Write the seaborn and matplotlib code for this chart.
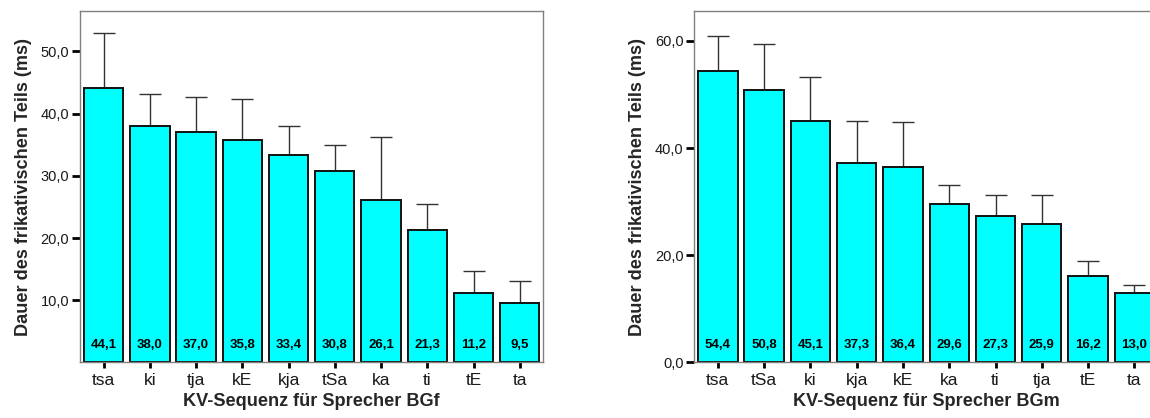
import matplotlib
matplotlib.use("Agg")
import matplotlib.pyplot as plt
import seaborn as sns
import numpy as np

# Sprecher BGf
cats_f = ["tsa", "ki", "tja", "kE", "kja", "tSa", "ka", "ti", "tE", "ta"]
mean_f = [44.1, 38.0, 37.0, 35.8, 33.4, 30.8, 26.1, 21.3, 11.2, 9.5]
err_f = [8.8, 5.1, 5.7, 6.5, 4.6, 4.1, 10.2, 4.2, 3.5, 3.6]
yticks_f = [10, 20, 30, 40, 50]

# Sprecher BGm
cats_m = ["tsa", "tSa", "ki", "kja", "kE", "ka", "ti", "tja", "tE", "ta"]
mean_m = [54.4, 50.8, 45.1, 37.3, 36.4, 29.6, 27.3, 25.9, 16.2, 13.0]
err_m = [6.6, 8.6, 8.1, 7.7, 8.4, 3.6, 4.0, 5.3, 2.7, 1.5]
yticks_m = [0, 20, 40, 60]

sns.set_theme(style="ticks")
plt.rcParams['font.family'] = ['Liberation Sans', 'DejaVu Sans']

fig = plt.figure(figsize=(11.5, 4.18), dpi=100)
ax1 = fig.add_axes([0.0696, 0.1328, 0.4029, 0.8409])
ax2 = fig.add_axes([0.6037, 0.1328, 0.4032, 0.8409])


def fmt(v):
    return f"{v:.1f}".replace(".", ",")


def draw(ax, cats, means, errs, yticks, ymax, speaker):
    sns.barplot(x=cats, y=means, order=cats, color="#00FFFF", saturation=1,
                width=0.85, edgecolor="#111111", linewidth=1.4,
                errorbar=None, ax=ax, zorder=2)
    pos = np.arange(len(cats))
    # Fehlerbalken nur nach oben
    ax.errorbar(pos, means, yerr=[np.zeros(len(errs)), errs], fmt="none",
                ecolor="#333333", elinewidth=1.0, capsize=8.2, capthick=1.0,
                zorder=1)
    for x, v in zip(pos, means):
        ax.text(x, 0.051, fmt(v), transform=ax.get_xaxis_transform(),
                ha="center", va="center", fontsize=9.5, fontweight="bold",
                color="black")
    ax.set_xlim(-0.51, len(cats) - 0.49)
    ax.set_ylim(0, ymax)
    ax.set_yticks(yticks)
    ax.set_yticklabels([fmt(t) for t in yticks])
    for s in ax.spines.values():
        s.set_color("#808080")
        s.set_linewidth(1.0)
        s.set_visible(True)
    ax.tick_params(axis="y", direction="out", length=5.8, width=2.0,
                   color="black", pad=2, labelsize=10.5, labelcolor="#1a1a1a")
    ax.tick_params(axis="x", direction="out", length=4.5, width=2.0,
                   color="black", pad=3, labelsize=12.5, labelcolor="#1a1a1a")
    ax.set_xlabel(f"KV-Sequenz für Sprecher {speaker}", fontsize=13.1,
                  fontweight="bold", labelpad=4)
    ax.set_ylabel("Dauer des frikativischen Teils (ms)", fontsize=13.1,
                  fontweight="bold", labelpad=6)


draw(ax1, cats_f, mean_f, err_f, yticks_f, 56.5, "BGf")
draw(ax2, cats_m, mean_m, err_m, yticks_m, 65.6, "BGm")

fig.savefig("out.png", dpi=100)
